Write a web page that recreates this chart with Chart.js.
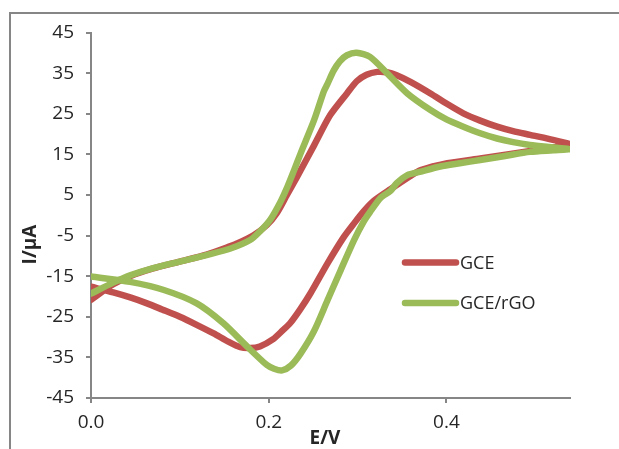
<!DOCTYPE html>
<html>
<head>
<meta charset="utf-8">
<script src="https://cdn.jsdelivr.net/npm/chart.js@4.4.1/dist/chart.umd.min.js"></script>
<style>
  html, body { margin: 0; padding: 0; background: #ffffff; }
  canvas { display: block; }
</style>
</head>
<body>
<canvas id="cv" width="619" height="449"></canvas>
<script>
// Cyclic voltammograms: potential (V) and current (µA), forward sweep then reverse sweep.
const gceE = [
  0.000, 0.025, 0.044, 0.070, 0.100, 0.130, 0.157, 0.165, 0.183, 0.198, 0.209, 0.220, 0.232, 0.251, 0.269,
  0.288, 0.299, 0.310, 0.322, 0.333, 0.344, 0.360, 0.382, 0.400, 0.419, 0.438, 0.457, 0.475, 0.494, 0.515, 0.539,
  0.525, 0.513, 0.476, 0.438, 0.401, 0.371, 0.359, 0.337, 0.318, 0.307, 0.296, 0.284, 0.266, 0.247, 0.235,
  0.224, 0.216, 0.205, 0.190, 0.179, 0.168, 0.155, 0.138, 0.120, 0.100, 0.080, 0.063, 0.045, 0.025, 0.000
];
const gceI = [
  -20.8, -17.0, -15.0, -13.1, -11.4, -9.7, -7.6, -6.9, -4.9, -2.4, 0.5, 4.8, 9.5, 17.2, 24.6,
  30.0, 33.0, 34.6, 35.3, 35.2, 34.5, 32.8, 30.0, 27.5, 25.1, 23.3, 21.8, 20.7, 19.8, 18.8, 17.5,
  16.9, 16.5, 15.2, 14.0, 12.8, 11.1, 9.6, 6.4, 3.5, 1.0, -2.0, -5.5, -11.9, -19.2, -23.3,
  -26.6, -28.3, -30.5, -32.3, -32.7, -32.5, -31.2, -29.1, -27.1, -25.0, -23.2, -21.7, -20.3, -19.0, -17.6
];
const rgoE = [
  0.000, 0.025, 0.044, 0.070, 0.100, 0.130, 0.157, 0.179, 0.190, 0.202, 0.213, 0.221, 0.228, 0.236, 0.251,
  0.262, 0.266, 0.273, 0.280, 0.288, 0.299, 0.314, 0.333, 0.356, 0.382, 0.400, 0.419, 0.438, 0.457, 0.475,
  0.494, 0.515, 0.539,
  0.520, 0.494, 0.466, 0.438, 0.415, 0.393, 0.370, 0.356, 0.344, 0.337, 0.326, 0.314, 0.307, 0.296, 0.281,
  0.266, 0.251, 0.236, 0.225, 0.215, 0.206, 0.198, 0.176, 0.149, 0.119, 0.082, 0.044, 0.000
];
const rgoI = [
  -19.3, -16.6, -14.8, -13.0, -11.4, -9.8, -8.2, -6.1, -4.0, -1.0, 3.2, 7.0, 10.8, 15.3, 23.4,
  30.5, 32.3, 35.6, 37.9, 39.4, 40.0, 39.0, 35.0, 30.0, 25.9, 23.6, 21.8, 20.2, 18.9, 18.0,
  17.3, 16.8, 16.3,
  16.0, 15.6, 14.6, 13.6, 12.8, 12.0, 10.7, 9.9, 7.9, 6.0, 4.3, 0.8, -1.5, -6.1, -13.5,
  -21.0, -28.5, -34.0, -37.0, -38.2, -37.8, -36.9, -32.4, -26.6, -21.7, -18.4, -16.4, -15.1
];

const seriesNames = ['GCE', 'GCE/rGO'];
const seriesColors = ['#C0504D', '#9BBB59'];

const xTicks = [0, 0.2, 0.4];
const xTickLabels = ['0.0', '0.2', '0.4'];
const yTicks = [-45, -35, -25, -15, -5, 5, 15, 25, 35, 45];
const xTitle = 'E/V';
const yTitle = 'I/µA';

const axisGrey = '#868686';
const textColor = '#262626';
const fontFamily = '"Open Sans", "Liberation Sans", sans-serif';

function toPoints(xs, ys) {
  return xs.map((x, i) => ({ x: x, y: ys[i] }));
}

// Outer chart frame (left and top edges)
const framePlugin = {
  id: 'frame',
  beforeDraw(chart) {
    const ctx = chart.ctx;
    ctx.save();
    ctx.strokeStyle = axisGrey;
    ctx.lineWidth = 2;
    ctx.beginPath();
    ctx.moveTo(10, chart.height);
    ctx.lineTo(10, 13);
    ctx.lineTo(chart.width, 13);
    ctx.stroke();
    ctx.restore();
  }
};

// Axis captions
const captionPlugin = {
  id: 'captions',
  afterDraw(chart) {
    const ctx = chart.ctx;
    const a = chart.chartArea;
    ctx.save();
    ctx.fillStyle = textColor;
    ctx.font = 'bold 19px ' + fontFamily;
    ctx.textAlign = 'center';
    ctx.textBaseline = 'middle';
    ctx.fillText(xTitle, a.left + 234, a.bottom + 41);
    ctx.translate(a.left - 60, a.top + 212);
    ctx.rotate(-Math.PI / 2);
    ctx.fillText(yTitle, 0, 0);
    ctx.restore();
  }
};

// Legend inside the plot area
const legendPlugin = {
  id: 'insideLegend',
  afterDraw(chart) {
    const ctx = chart.ctx;
    const a = chart.chartArea;
    ctx.save();
    ctx.font = '18px ' + fontFamily;
    ctx.textAlign = 'left';
    ctx.textBaseline = 'middle';
    chart.data.datasets.forEach((ds, i) => {
      const y = a.top + 230 + i * 40.5;
      const x0 = a.left + 314;
      ctx.strokeStyle = ds.borderColor;
      ctx.lineWidth = 6.5;
      ctx.lineCap = 'round';
      ctx.beginPath();
      ctx.moveTo(x0, y);
      ctx.lineTo(x0 + 51, y);
      ctx.stroke();
      ctx.fillStyle = textColor;
      ctx.fillText(ds.label, x0 + 55, y + 1);
    });
    ctx.restore();
  }
};

new Chart(document.getElementById('cv'), {
  type: 'scatter',
  data: {
    datasets: [
      {
        label: seriesNames[0],
        data: toPoints(gceE, gceI),
        borderColor: seriesColors[0],
        backgroundColor: seriesColors[0],
        order: 2
      },
      {
        label: seriesNames[1],
        data: toPoints(rgoE, rgoI),
        borderColor: seriesColors[1],
        backgroundColor: seriesColors[1],
        order: 1
      }
    ]
  },
  options: {
    responsive: false,
    animation: false,
    devicePixelRatio: 1,
    datasets: {
      scatter: {
        showLine: true,
        pointRadius: 0,
        pointHoverRadius: 0,
        borderWidth: 6.5,
        tension: 0.25,
        borderCapStyle: 'round',
        borderJoinStyle: 'round'
      }
    },
    layout: { padding: { left: 0, right: 49, top: 32.5, bottom: 0 } },
    plugins: {
      legend: { display: false },
      tooltip: { enabled: false }
    },
    scales: {
      x: {
        type: 'linear',
        min: 0,
        max: 0.539,
        afterBuildTicks(scale) { scale.ticks = xTicks.map(v => ({ value: v })); },
        afterFit(scale) { scale.height = 51; },
        ticks: {
          padding: 8,
          color: textColor,
          font: { family: fontFamily, size: 19 },
          callback(value) {
            const k = xTicks.indexOf(value);
            return k >= 0 ? xTickLabels[k] : '';
          }
        },
        grid: { drawOnChartArea: false, drawTicks: true, tickLength: 5, color: axisGrey, lineWidth: 2 },
        border: { display: true, color: axisGrey, width: 2 }
      },
      y: {
        type: 'linear',
        min: -45,
        max: 45,
        afterBuildTicks(scale) { scale.ticks = yTicks.map(v => ({ value: v })); },
        afterFit(scale) { scale.width = 91; },
        ticks: {
          padding: 12,
          color: textColor,
          font: { family: fontFamily, size: 19 },
          callback(value) { return String(value); }
        },
        grid: { drawOnChartArea: false, drawTicks: true, tickLength: 5, color: axisGrey, lineWidth: 2 },
        border: { display: true, color: axisGrey, width: 2 }
      }
    }
  },
  plugins: [framePlugin, captionPlugin, legendPlugin]
});
</script>
</body>
</html>
